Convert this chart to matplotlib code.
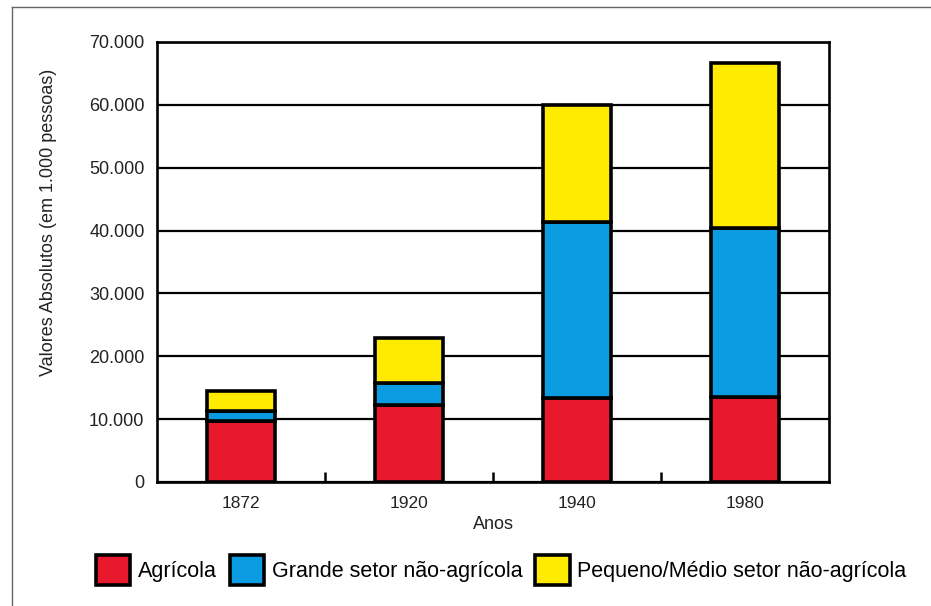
import numpy as np
import matplotlib
matplotlib.use("Agg")
import matplotlib.pyplot as plt
from matplotlib.lines import Line2D
from matplotlib import font_manager

anos = ["1872", "1920", "1940", "1980"]
agricola = [9.7, 12.2, 13.4, 13.5]
grande = [1.6, 3.5, 27.9, 26.9]
pequeno = [3.2, 7.2, 18.7, 26.2]
series_labels = ["Agrícola", "Grande setor não-agrícola", "Pequeno/Médio setor não-agrícola"]
y_ticks = [0, 10, 20, 30, 40, 50, 60, 70]
y_ticklabels = ["0", "10.000", "20.000", "30.000", "40.000", "50.000", "60.000", "70.000"]

names = {f.name for f in font_manager.fontManager.ttflist}
base_font = "Liberation Sans" if "Liberation Sans" in names else "DejaVu Sans"
plt.rcParams["font.family"] = [base_font, "DejaVu Sans"]

fig = plt.figure(figsize=(9.31, 6.06), dpi=100)
ax = fig.add_axes([157 / 931, 1 - 482 / 606, 672 / 931, 440 / 606])

x = np.arange(len(anos))
colors = ["#E8192C", "#0A9BE0", "#FFEB00"]
bottom = np.zeros(len(anos))
handles = []
for vals, c in zip([agricola, grande, pequeno], colors):
    b = ax.bar(x, vals, 0.4, bottom=bottom, color=c, edgecolor="black", linewidth=2.6, zorder=3)
    handles.append(b)
    bottom += np.array(vals)

ax.set_xlim(-0.5, 3.5)
ax.set_ylim(0, 70)
ax.set_yticks(y_ticks)
ax.set_yticklabels(y_ticklabels, fontsize=13, color="#222222")
ax.set_xticks(x)
ax.set_xticklabels(anos, fontsize=12.5, color="#222222")
ax.set_xticks([0.5, 1.5, 2.5], minor=True)
ax.tick_params(axis="both", which="major", length=0)
ax.tick_params(axis="y", pad=9)
ax.tick_params(axis="x", pad=10)
ax.tick_params(axis="x", which="minor", direction="in", length=7, width=1.8)
ax.yaxis.grid(True, color="black", linewidth=1.6, zorder=1)
ax.set_axisbelow(True)
for s in ax.spines.values():
    s.set_linewidth(1.9)

ax.set_xlabel("Anos", fontsize=13, color="#222222", labelpad=4)
fig.text(49 / 931, 1 - 222 / 606, "Valores Absolutos (em 1.000 pessoas)", rotation=90,
         ha="center", va="center", fontsize=13, color="#222222")

fig.legend(handles=handles, labels=series_labels, loc="center left",
           bbox_to_anchor=(96 / 931, 1 - 570 / 606), ncol=3, frameon=False,
           prop={"size": 15.5},
           handlelength=1.6, handleheight=1.8, handletextpad=0.35,
           columnspacing=0.6, borderaxespad=0, borderpad=0)

fig.add_artist(Line2D([12 / 931, 1], [1 - 7 / 606, 1 - 7 / 606], transform=fig.transFigure,
                      color="#666666", linewidth=1))
fig.add_artist(Line2D([12 / 931, 12 / 931], [0, 1 - 7 / 606], transform=fig.transFigure,
                      color="#666666", linewidth=1))

fig.savefig("out.png", dpi=100)
